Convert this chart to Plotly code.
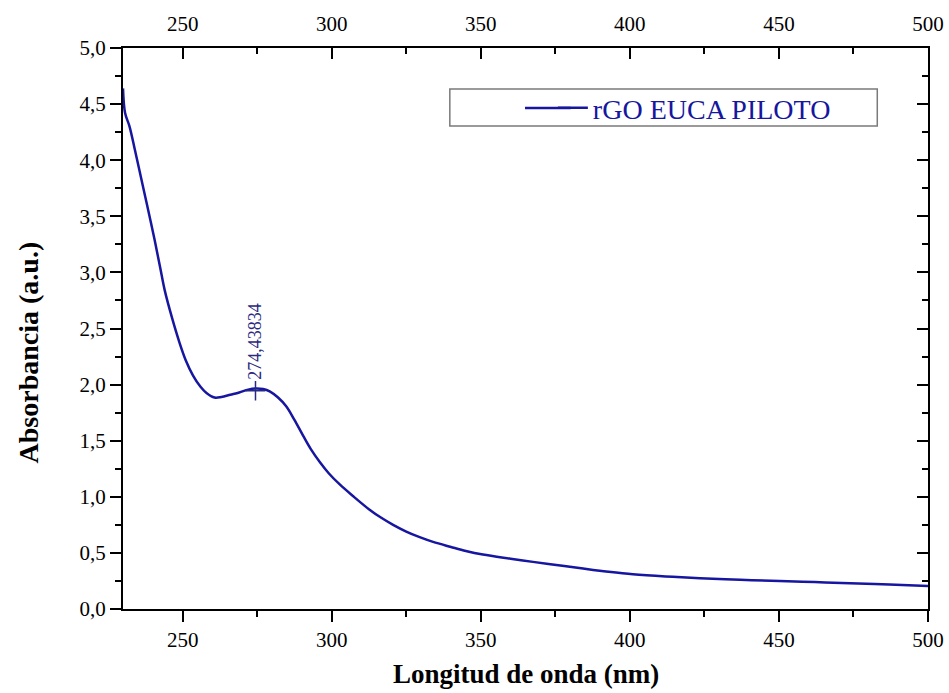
import plotly.graph_objects as go

# Wavelength (nm) and absorbance (a.u.)
wavelength = [230, 230.7, 232.2, 234, 236, 238, 240.6, 242.5, 244, 246.5, 249, 251,
              253.5, 256, 258, 260.7, 263, 266, 269, 272, 274.4, 277, 279.2, 282,
              284.8, 287.5, 290.4, 293, 296, 299, 302.7, 307, 312.7, 316.5, 320.6,
              325, 329.5, 334, 340, 345, 350.7, 360, 367.5, 376, 384.3, 392, 401, 412,
              423.5, 437, 450.3, 462, 473.8, 487, 500]
absorbance = [4.64, 4.42, 4.30, 4.09, 3.85, 3.61, 3.29, 3.04, 2.84, 2.59, 2.37, 2.22,
              2.08, 1.98, 1.925, 1.885, 1.89, 1.91, 1.93, 1.955, 1.965, 1.96, 1.94, 1.885,
              1.805, 1.685, 1.545, 1.425, 1.31, 1.21, 1.11, 1.01, 0.885, 0.815, 0.75,
              0.69, 0.64, 0.598, 0.553, 0.517, 0.485, 0.448, 0.42, 0.39, 0.36, 0.335, 0.31, 0.29,
              0.275, 0.26, 0.25, 0.24, 0.23, 0.218, 0.205]

series_name = "rGO EUCA PILOTO"
peak_x = [274.43834]
peak_y = [1.945]
peak_label = "274,43834"

x_title = "Longitud de onda (nm)"
y_title = "Absorbancia (a.u.)"

line_color = "#1616a0"
font_family = "Liberation Serif"

fig = go.Figure()
fig.add_trace(go.Scatter(x=wavelength, y=absorbance, mode="lines", name=series_name,
                         line=dict(color=line_color, width=2.5, shape="spline", smoothing=1.0)))
# invisible trace to activate the mirrored top/right axes
fig.add_trace(go.Scatter(x=wavelength, y=absorbance, mode="lines", xaxis="x2", yaxis="y2",
                         line=dict(width=0), opacity=0, showlegend=False, hoverinfo="skip"))
fig.add_trace(go.Scatter(x=peak_x, y=peak_y, mode="markers", showlegend=False,
                         marker=dict(symbol="cross-thin", size=14,
                                     line=dict(color="#2a2a80", width=1.5))))

fig.add_annotation(x=peak_x[0], y=peak_y[0], text=peak_label, textangle=-90,
                   showarrow=False, yanchor="bottom", xanchor="center", yshift=9,
                   font=dict(family=font_family, size=18, color="#2a2a80"))

# axis titles
fig.add_annotation(xref="paper", yref="paper", x=0.5, y=-0.116, text="<b>" + x_title + "</b>",
                   showarrow=False, xanchor="center", yanchor="middle",
                   font=dict(family=font_family, size=27, color="black"))
fig.add_annotation(xref="paper", yref="paper", x=-0.1175, y=0.458, text="<b>" + y_title + "</b>",
                   textangle=-90, showarrow=False, xanchor="center", yanchor="middle",
                   font=dict(family=font_family, size=28, color="black"))

axis_common = dict(showline=True, linecolor="black", linewidth=2, automargin=False,
                   tickcolor="black", tickwidth=2, ticklen=11, showgrid=False,
                   zeroline=False)

fig.update_layout(
    width=949, height=693,
    margin=dict(l=123, r=21, t=48, b=84),
    paper_bgcolor="white", plot_bgcolor="white",
    font=dict(family=font_family, size=21, color="black"),
    separators=", ",
    showlegend=True,
    legend=dict(x=0.534, y=0.893, xanchor="left", yanchor="middle",
                bgcolor="rgba(0,0,0,0)", borderwidth=0,
                font=dict(family=font_family, size=28, color=line_color)),
    xaxis=dict(**axis_common,
               range=[230, 500], ticks="outside", dtick=50, tick0=0,
               minor=dict(dtick=25, ticklen=6, tickwidth=2, ticks="outside", tickcolor="black")),
    yaxis=dict(**axis_common,
               range=[0, 5], ticks="outside", dtick=0.5, tick0=0, tickformat=".1f",
               minor=dict(dtick=0.25, ticklen=6, tickwidth=2, ticks="outside", tickcolor="black")),
    xaxis2=dict(**axis_common,
                range=[230, 500], overlaying="x", side="top", anchor="y2",
                ticks="inside", dtick=50, tick0=0, ticklabelstandoff=7,
                minor=dict(dtick=25, ticklen=6, tickwidth=2, ticks="inside", tickcolor="black")),
    yaxis2=dict(**axis_common,
                range=[0, 5], overlaying="y", side="right", anchor="x2",
                ticks="inside", dtick=0.5, tick0=0, showticklabels=False,
                minor=dict(dtick=0.25, ticklen=6, tickwidth=2, ticks="inside", tickcolor="black")),
)
fig.update_xaxes(tickfont=dict(family=font_family, size=21, color="black"))
fig.update_yaxes(tickfont=dict(family=font_family, size=21, color="black"))

# legend frame and longer legend line sample
fig.add_shape(type="rect", xref="paper", yref="paper", x0=0.406, x1=0.937, y0=0.861, y1=0.927,
              line=dict(color="#7a7a7a", width=1.5), fillcolor="rgba(0,0,0,0)")
fig.add_shape(type="line", xref="paper", yref="paper", x0=0.4994, x1=0.556, y0=0.893, y1=0.893,
              line=dict(color=line_color, width=2.5))

fig.write_html("out.html")
